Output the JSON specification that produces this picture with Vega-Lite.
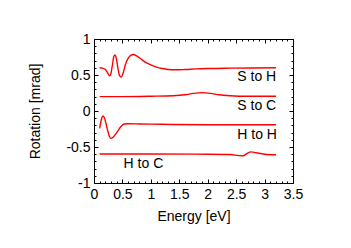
{
  "$schema": "https://vega.github.io/schema/vega-lite/v6.json",
  "width": 199,
  "height": 144,
  "autosize": {"type": "none"},
  "padding": {"left": 94, "top": 39, "right": 58, "bottom": 65},
  "background": "white",
  "config": {
    "font": "Liberation Sans",
    "view": {"stroke": "#000000", "strokeWidth": 1},
    "axis": {
      "domain": false,
      "grid": false,
      "tickColor": "#000000",
      "tickWidth": 1,
      "labelFont": "Liberation Sans",
      "labelFontSize": 14,
      "labelColor": "#000000",
      "labelOverlap": false,
      "labelFlush": false,
      "titleFont": "Liberation Sans",
      "titleFontSize": 14,
      "titleFontWeight": "normal",
      "titleColor": "#000000"
    }
  },
  "datasets": {
    "curves": [
      {"s": "S to H", "x": 0.10, "y": 0.600},
      {"s": "S to H", "x": 0.15, "y": 0.595},
      {"s": "S to H", "x": 0.20, "y": 0.575},
      {"s": "S to H", "x": 0.24, "y": 0.530},
      {"s": "S to H", "x": 0.27, "y": 0.490},
      {"s": "S to H", "x": 0.29, "y": 0.500},
      {"s": "S to H", "x": 0.32, "y": 0.620},
      {"s": "S to H", "x": 0.35, "y": 0.760},
      {"s": "S to H", "x": 0.37, "y": 0.780},
      {"s": "S to H", "x": 0.39, "y": 0.740},
      {"s": "S to H", "x": 0.42, "y": 0.600},
      {"s": "S to H", "x": 0.45, "y": 0.490},
      {"s": "S to H", "x": 0.48, "y": 0.470},
      {"s": "S to H", "x": 0.51, "y": 0.520},
      {"s": "S to H", "x": 0.55, "y": 0.640},
      {"s": "S to H", "x": 0.60, "y": 0.730},
      {"s": "S to H", "x": 0.65, "y": 0.775},
      {"s": "S to H", "x": 0.69, "y": 0.785},
      {"s": "S to H", "x": 0.75, "y": 0.765},
      {"s": "S to H", "x": 0.82, "y": 0.725},
      {"s": "S to H", "x": 0.90, "y": 0.680},
      {"s": "S to H", "x": 1.00, "y": 0.640},
      {"s": "S to H", "x": 1.10, "y": 0.610},
      {"s": "S to H", "x": 1.20, "y": 0.590},
      {"s": "S to H", "x": 1.30, "y": 0.577},
      {"s": "S to H", "x": 1.45, "y": 0.572},
      {"s": "S to H", "x": 1.60, "y": 0.576},
      {"s": "S to H", "x": 1.80, "y": 0.585},
      {"s": "S to H", "x": 2.00, "y": 0.590},
      {"s": "S to H", "x": 2.40, "y": 0.595},
      {"s": "S to H", "x": 2.80, "y": 0.598},
      {"s": "S to H", "x": 3.20, "y": 0.600},
      {"s": "S to C", "x": 0.10, "y": 0.200},
      {"s": "S to C", "x": 0.50, "y": 0.200},
      {"s": "S to C", "x": 1.00, "y": 0.205},
      {"s": "S to C", "x": 1.40, "y": 0.212},
      {"s": "S to C", "x": 1.60, "y": 0.225},
      {"s": "S to C", "x": 1.75, "y": 0.245},
      {"s": "S to C", "x": 1.90, "y": 0.255},
      {"s": "S to C", "x": 2.05, "y": 0.245},
      {"s": "S to C", "x": 2.20, "y": 0.225},
      {"s": "S to C", "x": 2.40, "y": 0.212},
      {"s": "S to C", "x": 2.70, "y": 0.205},
      {"s": "S to C", "x": 3.20, "y": 0.205},
      {"s": "H to H", "x": 0.10, "y": -0.240},
      {"s": "H to H", "x": 0.12, "y": -0.150},
      {"s": "H to H", "x": 0.14, "y": -0.090},
      {"s": "H to H", "x": 0.16, "y": -0.070},
      {"s": "H to H", "x": 0.18, "y": -0.090},
      {"s": "H to H", "x": 0.21, "y": -0.170},
      {"s": "H to H", "x": 0.24, "y": -0.270},
      {"s": "H to H", "x": 0.27, "y": -0.350},
      {"s": "H to H", "x": 0.30, "y": -0.380},
      {"s": "H to H", "x": 0.34, "y": -0.360},
      {"s": "H to H", "x": 0.40, "y": -0.300},
      {"s": "H to H", "x": 0.46, "y": -0.230},
      {"s": "H to H", "x": 0.50, "y": -0.195},
      {"s": "H to H", "x": 0.53, "y": -0.180},
      {"s": "H to H", "x": 0.60, "y": -0.178},
      {"s": "H to H", "x": 0.80, "y": -0.180},
      {"s": "H to H", "x": 1.20, "y": -0.185},
      {"s": "H to H", "x": 2.00, "y": -0.190},
      {"s": "H to H", "x": 3.20, "y": -0.190},
      {"s": "H to C", "x": 0.10, "y": -0.597},
      {"s": "H to C", "x": 1.00, "y": -0.598},
      {"s": "H to C", "x": 2.00, "y": -0.600},
      {"s": "H to C", "x": 2.40, "y": -0.605},
      {"s": "H to C", "x": 2.55, "y": -0.620},
      {"s": "H to C", "x": 2.62, "y": -0.622},
      {"s": "H to C", "x": 2.70, "y": -0.585},
      {"s": "H to C", "x": 2.76, "y": -0.568},
      {"s": "H to C", "x": 2.85, "y": -0.580},
      {"s": "H to C", "x": 3.00, "y": -0.600},
      {"s": "H to C", "x": 3.20, "y": -0.608}
    ],
    "labels": [
      {"t": "S to H", "x": 2.52, "y": 0.41},
      {"t": "S to C", "x": 2.52, "y": 0.014},
      {"t": "H to H", "x": 2.52, "y": -0.389},
      {"t": "H to C", "x": 0.52, "y": -0.796}
    ]
  },
  "layer": [
    {
      "data": {"name": "curves"},
      "mark": {"type": "line", "color": "#ff0000", "strokeWidth": 1.4, "interpolate": "monotone"},
      "encoding": {
        "x": {
          "field": "x", "type": "quantitative",
          "scale": {"domain": [0, 3.5], "nice": false, "zero": false},
          "axis": {
            "orient": "bottom",
            "title": "Energy [eV]",
            "values": [0,0.1,0.2,0.3,0.4,0.5,0.6,0.7,0.8,0.9,1,1.1,1.2,1.3,1.4,1.5,1.6,1.7,1.8,1.9,2,2.1,2.2,2.3,2.4,2.5,2.6,2.7,2.8,2.9,3,3.1,3.2,3.3,3.4,3.5],
            "format": "~g",
            "labelExpr": "abs(datum.value*2-round(datum.value*2))<0.000001 ? replace(datum.label,'\u2212','-') : ''",
            "tickSize": {"condition": {"test": "abs(datum.value*2-round(datum.value*2))<0.000001", "value": -4}, "value": -2},
            "labelPadding": 8,
            "titlePadding": 6
          }
        },
        "y": {
          "field": "y", "type": "quantitative",
          "scale": {"domain": [-1, 1], "nice": false, "zero": false},
          "axis": {
            "orient": "left",
            "title": "Rotation [mrad]",
            "values": [-1,-0.9,-0.8,-0.7,-0.6,-0.5,-0.4,-0.3,-0.2,-0.1,0,0.1,0.2,0.3,0.4,0.5,0.6,0.7,0.8,0.9,1],
            "format": "~g",
            "labelExpr": "abs(datum.value*2-round(datum.value*2))<0.000001 ? replace(datum.label,'\u2212','-') : ''",
            "tickSize": {"condition": {"test": "abs(datum.value*2-round(datum.value*2))<0.000001", "value": -4}, "value": -2},
            "labelPadding": 8,
            "titlePadding": 23
          }
        },
        "detail": {"field": "s", "type": "nominal"}
      }
    },
    {
      "data": {"name": "labels"},
      "mark": {"type": "text", "align": "left", "baseline": "alphabetic", "font": "Liberation Sans", "fontSize": 14, "color": "#000000"},
      "encoding": {
        "x": {
          "field": "x", "type": "quantitative",
          "axis": {
            "orient": "top",
            "title": null,
            "labels": false,
            "values": [0,0.1,0.2,0.3,0.4,0.5,0.6,0.7,0.8,0.9,1,1.1,1.2,1.3,1.4,1.5,1.6,1.7,1.8,1.9,2,2.1,2.2,2.3,2.4,2.5,2.6,2.7,2.8,2.9,3,3.1,3.2,3.3,3.4,3.5],
            "tickSize": {"condition": {"test": "abs(datum.value*2-round(datum.value*2))<0.000001", "value": -4}, "value": -2}
          }
        },
        "y": {
          "field": "y", "type": "quantitative",
          "axis": {
            "orient": "right",
            "title": null,
            "labels": false,
            "values": [-1,-0.9,-0.8,-0.7,-0.6,-0.5,-0.4,-0.3,-0.2,-0.1,0,0.1,0.2,0.3,0.4,0.5,0.6,0.7,0.8,0.9,1],
            "tickSize": {"condition": {"test": "abs(datum.value*2-round(datum.value*2))<0.000001", "value": -4}, "value": -2}
          }
        },
        "text": {"field": "t", "type": "nominal"}
      }
    }
  ],
  "resolve": {"axis": {"x": "independent", "y": "independent"}}
}
